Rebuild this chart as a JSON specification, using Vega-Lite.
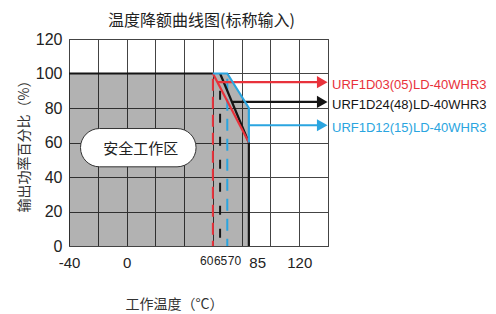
{
  "$schema": "https://vega.github.io/schema/vega-lite/v6.json",
  "autosize": {"type": "none"},
  "width": 259,
  "height": 207,
  "padding": {"left": 69, "top": 39, "right": 168, "bottom": 68},
  "background": "white",
  "title": {"text": "温度降额曲线图(标称输入)", "font": "Noto Sans CJK SC", "fontSize": 16, "fontWeight": "normal", "color": "#222222", "anchor": "middle", "offset": 2, "dx": 3},
  "config": {"view": {"stroke": "#333333", "strokeWidth": 1}},
  "datasets": {
    "fill": [
      {"t": -40, "p": 100},
      {"t": 70, "p": 100},
      {"t": 85, "p": 80}
    ],
    "lines": [
      {"series": "k", "seg": "k1", "i": 1, "t": -40, "p": 100},
      {"series": "k", "seg": "k1", "i": 2, "t": 60, "p": 100},
      {"series": "k", "seg": "k2", "i": 1, "t": 65, "p": 100},
      {"series": "k", "seg": "k2", "i": 2, "t": 85, "p": 60},
      {"series": "k", "seg": "k2", "i": 3, "t": 85, "p": 0},
      {"series": "k", "seg": "k3", "i": 1, "t": 73.5, "p": 83.5},
      {"series": "k", "seg": "k3", "i": 2, "t": 136, "p": 83.5},
      {"series": "r", "seg": "r1", "i": 1, "t": 60, "p": 100},
      {"series": "r", "seg": "r1", "i": 2, "t": 85, "p": 60},
      {"series": "r", "seg": "r2", "i": 1, "t": 63, "p": 95},
      {"series": "r", "seg": "r2", "i": 2, "t": 136, "p": 95},
      {"series": "b", "seg": "b1", "i": 1, "t": 60, "p": 100},
      {"series": "b", "seg": "b1", "i": 2, "t": 70, "p": 100},
      {"series": "b", "seg": "b1", "i": 3, "t": 85, "p": 80},
      {"series": "b", "seg": "b1", "i": 4, "t": 85, "p": 60},
      {"series": "b", "seg": "b2", "i": 1, "t": 85, "p": 70},
      {"series": "b", "seg": "b2", "i": 2, "t": 136, "p": 70}
    ],
    "dashes": [
      {"series": "r", "t": 60, "p": 97, "p2": 0},
      {"series": "k", "t": 65, "p": 90, "p2": 0},
      {"series": "b", "t": 70, "p": 97, "p2": 0}
    ],
    "arrows": [
      {"series": "r", "t": 136, "p": 95, "label": "URF1D03(05)LD-40WHR3"},
      {"series": "k", "t": 136, "p": 83.5, "label": "URF1D24(48)LD-40WHR3"},
      {"series": "b", "t": 136, "p": 70, "label": "URF1D12(15)LD-40WHR3"}
    ],
    "box": [
      {"t": -32, "t2": 48.3, "p": 68.1, "p2": 45.9, "tc": 9.8, "pc": 56.5, "label": "安全工作区"}
    ]
  },
  "resolve": {"axis": {"x": "independent", "y": "independent"}},
  "layer": [
    {
      "data": {"name": "fill"},
      "mark": {"type": "area", "color": "#000000", "opacity": 0.3},
      "encoding": {
        "x": {"field": "t", "type": "quantitative",
          "scale": {"domain": [-40, 140], "nice": false, "zero": false},
          "axis": {"orient": "bottom", "values": [-40, -20, 0, 20, 40, 60, 80, 100, 120, 140], "grid": true, "gridColor": "#444444", "gridOpacity": 1, "gridWidth": 1, "labels": false, "ticks": false, "domain": false, "title": null}},
        "y": {"field": "p", "type": "quantitative",
          "scale": {"domain": [0, 120], "nice": false, "zero": true},
          "axis": {"orient": "left", "values": [0, 20, 40, 60, 80, 100, 120], "grid": true, "gridColor": "#444444", "gridOpacity": 1, "gridWidth": 1, "ticks": false, "domain": false, "labelOverlap": false,
            "labelFont": "Liberation Sans", "labelFontSize": 16, "labelColor": "#222222", "labelPadding": 7,
            "title": "输出功率百分比（%）", "titleFont": "Noto Sans CJK SC", "titleFontSize": 14, "titleFontWeight": "normal", "titleColor": "#333333",
            "titleAngle": -90, "titleX": -45, "titleY": 103.5, "titleAlign": "center", "titleBaseline": "middle"}}
      }
    },
    {
      "data": {"name": "dashes"},
      "mark": {"type": "rule", "strokeWidth": 2},
      "encoding": {
        "x": {"field": "t", "type": "quantitative", "axis": null},
        "y": {"field": "p", "type": "quantitative", "axis": null},
        "y2": {"field": "p2"},
        "color": {"field": "series", "type": "nominal", "scale": {"domain": ["r", "k", "b"], "range": ["#e8323b", "#151515", "#2aa5e0"]}, "legend": null},
        "strokeDash": {"field": "series", "type": "nominal", "scale": {"domain": ["r", "k", "b"], "range": [[12, 6], [9, 14], [12, 8]]}, "legend": null}
      }
    },
    {
      "data": {"name": "lines"},
      "mark": {"type": "line", "strokeWidth": 2.2},
      "encoding": {
        "x": {"field": "t", "type": "quantitative",
          "axis": {"orient": "bottom", "values": [-40, 0, 60, 65, 70, 85, 120], "grid": false, "ticks": false, "domain": false, "labelOverlap": false,
            "labelExpr": "'' + datum.value",
            "labelFont": "Liberation Sans", "labelColor": "#222222", "labelPadding": 9,
            "labelAlign": {"condition": [{"test": "datum.value == 60", "value": "right"}, {"test": "datum.value == 70 || datum.value == 85", "value": "left"}], "value": "center"},
            "labelFontSize": {"condition": {"test": "datum.value >= 60 && datum.value <= 70", "value": 12}, "value": 15},
            "title": "工作温度（°C）", "titleFont": "Noto Sans CJK SC", "titleFontSize": 14, "titleFontWeight": "normal", "titleColor": "#333333",
            "titleX": 105, "titleY": 58, "titleAlign": "center", "titleBaseline": "middle"}},
        "y": {"field": "p", "type": "quantitative", "axis": null},
        "color": {"field": "series", "type": "nominal", "legend": null},
        "detail": {"field": "seg", "type": "nominal"},
        "order": {"field": "i", "type": "quantitative"}
      }
    },
    {
      "data": {"name": "arrows"},
      "mark": {"type": "point", "shape": "triangle-right", "filled": true, "opacity": 1, "size": 150},
      "encoding": {
        "x": {"field": "t", "type": "quantitative", "axis": null},
        "y": {"field": "p", "type": "quantitative", "axis": null},
        "color": {"field": "series", "type": "nominal", "legend": null}
      }
    },
    {
      "data": {"name": "arrows"},
      "mark": {"type": "text", "align": "left", "baseline": "middle", "dx": 4, "dy": 3, "font": "Liberation Sans", "fontSize": 13},
      "encoding": {
        "x": {"datum": 140, "type": "quantitative", "axis": null},
        "y": {"field": "p", "type": "quantitative", "axis": null},
        "text": {"field": "label"},
        "color": {"field": "series", "type": "nominal", "legend": null}
      }
    },
    {
      "data": {"name": "box"},
      "mark": {"type": "rect", "fill": "white", "stroke": "#333333", "strokeWidth": 1, "cornerRadius": 19},
      "encoding": {
        "x": {"field": "t", "type": "quantitative", "axis": null},
        "x2": {"field": "t2"},
        "y": {"field": "p", "type": "quantitative", "axis": null},
        "y2": {"field": "p2"}
      }
    },
    {
      "data": {"name": "box"},
      "mark": {"type": "text", "font": "Noto Sans CJK SC", "fontSize": 15, "color": "#222222", "align": "center", "baseline": "middle"},
      "encoding": {
        "x": {"field": "tc", "type": "quantitative", "axis": null},
        "y": {"field": "pc", "type": "quantitative", "axis": null},
        "text": {"field": "label"}
      }
    }
  ]
}
